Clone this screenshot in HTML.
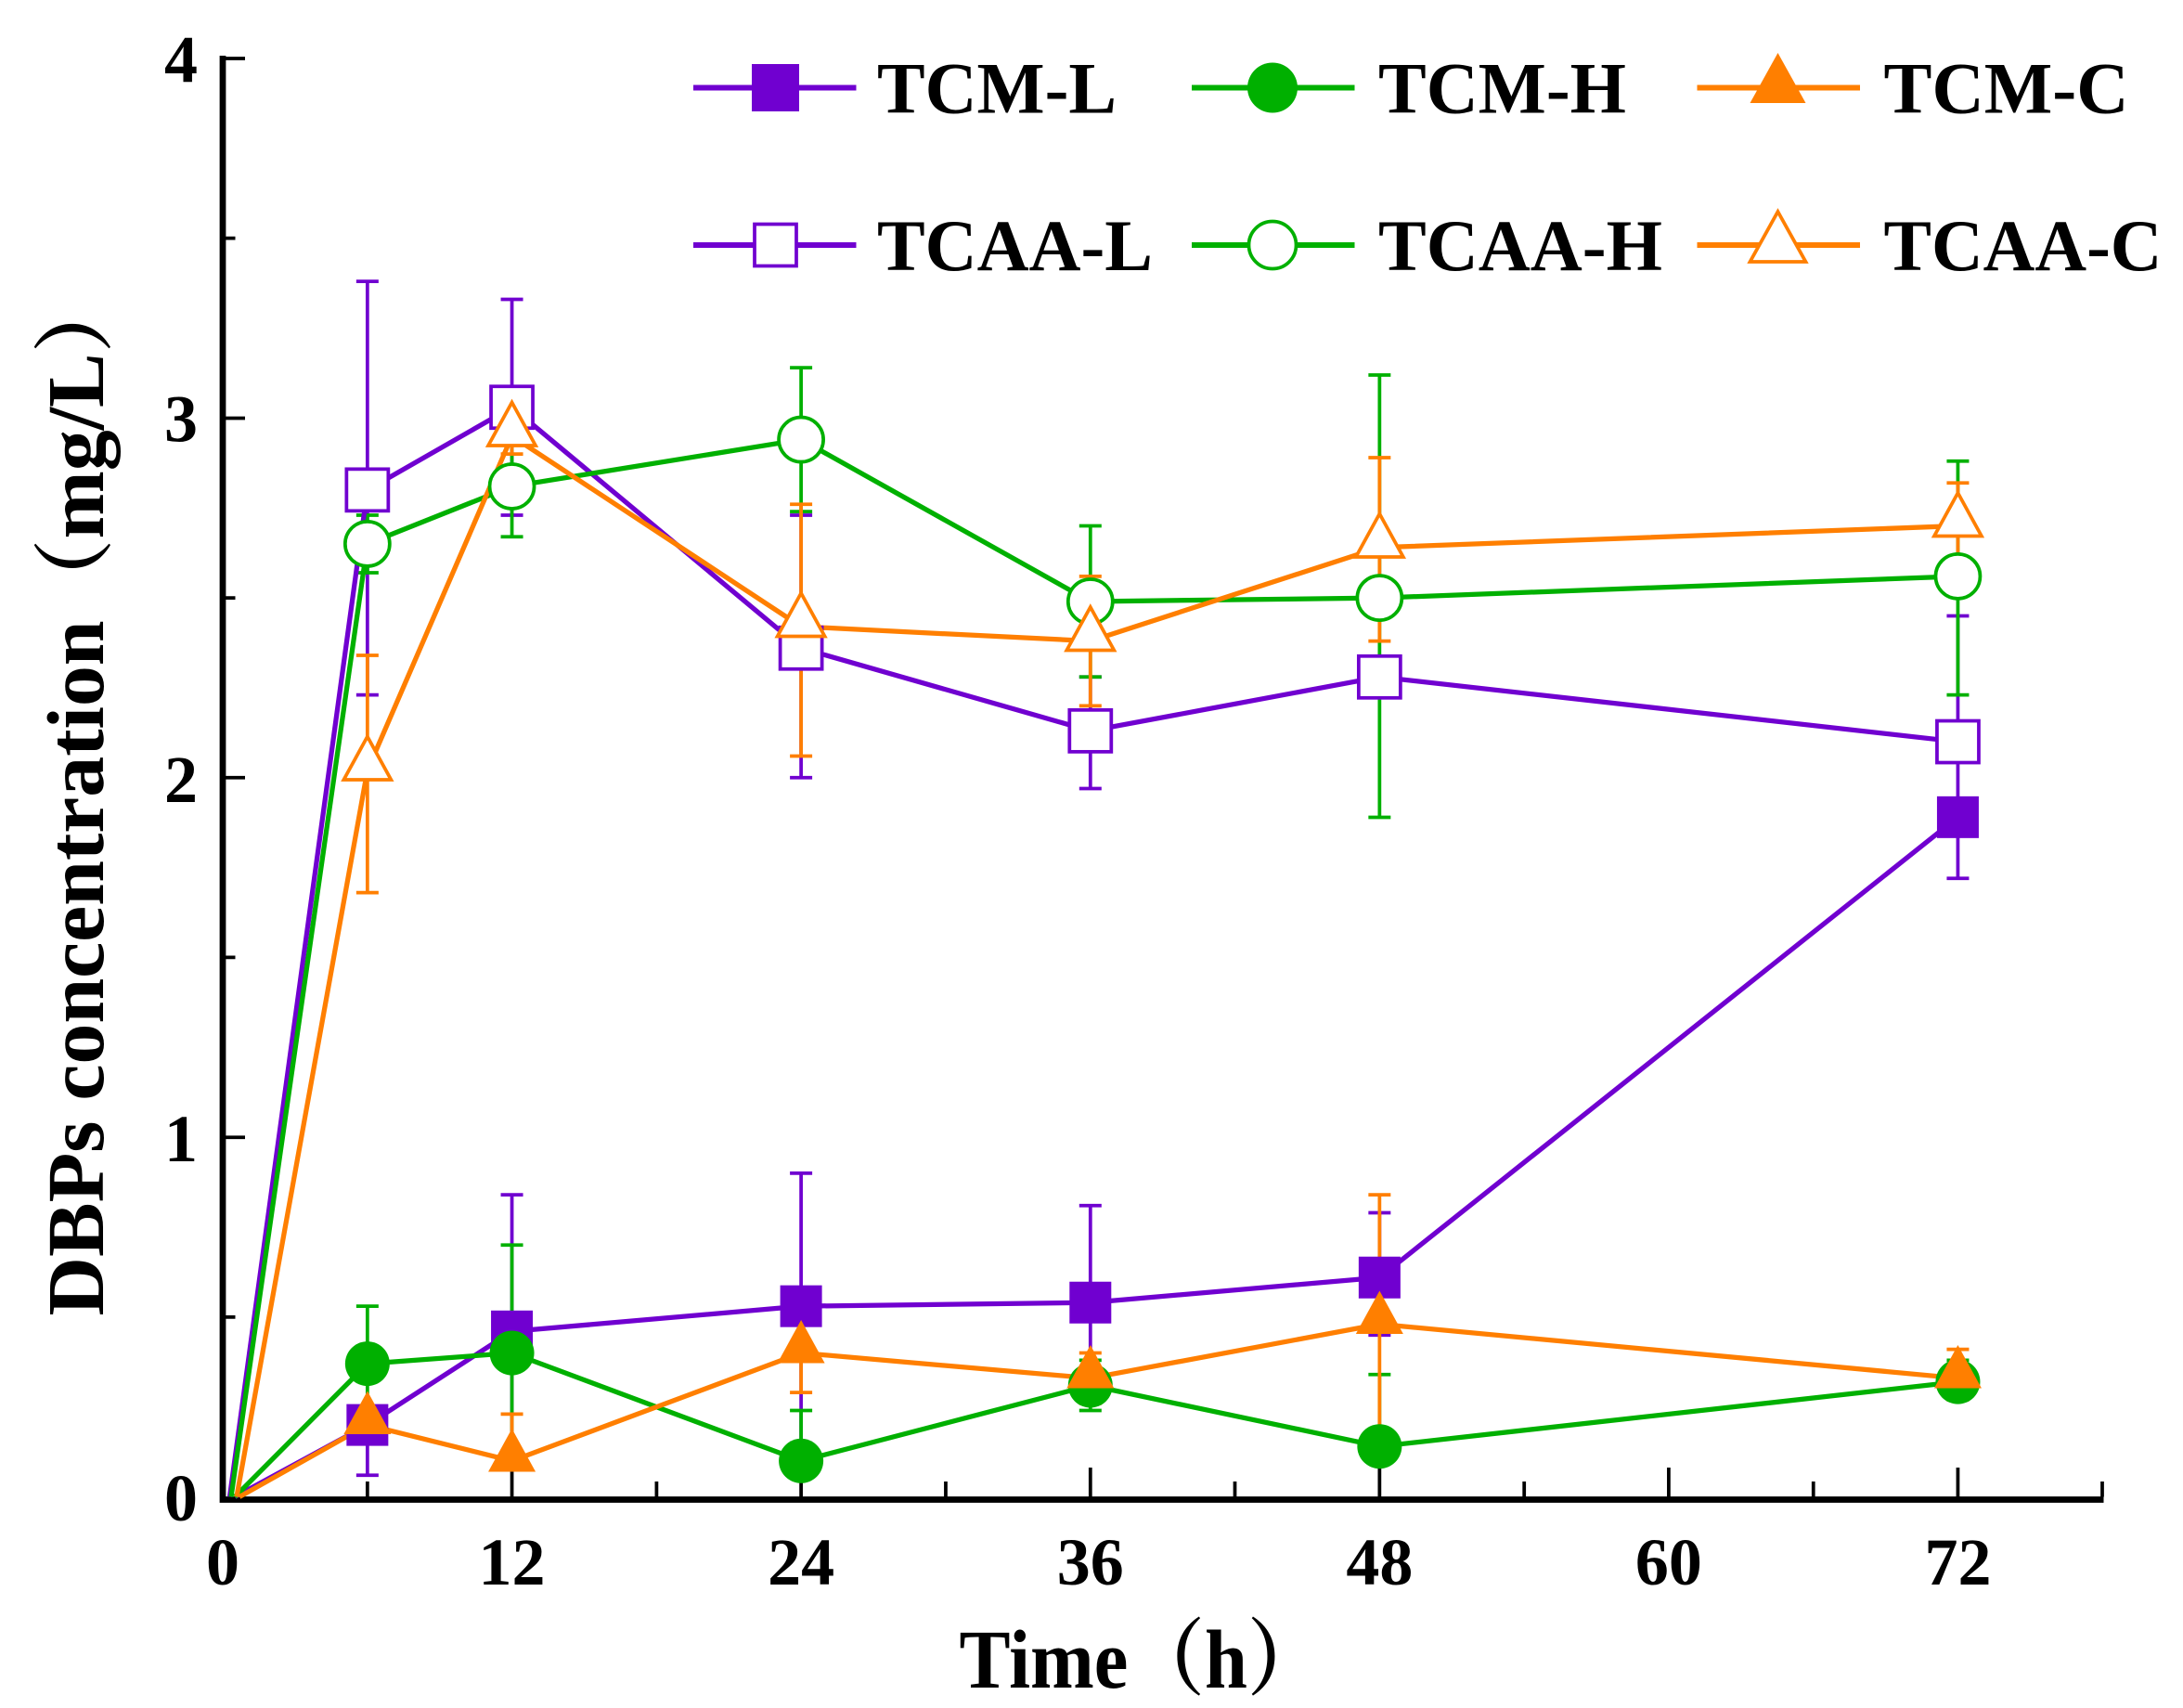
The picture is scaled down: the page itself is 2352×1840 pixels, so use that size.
<!DOCTYPE html>
<html><head><meta charset="utf-8"><style>html,body{margin:0;padding:0;background:#fff}svg{display:block}</style></head>
<body>
<svg width="2352" height="1840" viewBox="0 0 1568 1226.67" preserveAspectRatio="none" xmlns="http://www.w3.org/2000/svg" font-family="'Liberation Serif', 'Noto Serif CJK SC', serif" font-weight="bold">
<rect width="1568" height="1227" fill="#fff"/>
<g stroke="#000" stroke-width="4.5" fill="none">
<path d="M160 40 V1077 H1511"/>
</g>
<g stroke="#000" stroke-width="2.5" fill="none">
<path d="M160 42 h16 M160 300.3 h16 M160 558.5 h16 M160 816.8 h16"/>
<path d="M160 171.1 h9 M160 429.4 h9 M160 687.6 h9 M160 945.9 h9"/>
<path d="M367.7 1075 v-21 M575.4 1075 v-21 M783.2 1075 v-21 M990.9 1075 v-21 M1198.6 1075 v-21 M1406.3 1075 v-21"/>
<path d="M263.9 1075 v-11 M471.6 1075 v-11 M679.3 1075 v-11 M887 1075 v-11 M1094.8 1075 v-11 M1302.5 1075 v-11 M1510 1075 v-11"/>
</g>
<g font-size="48" text-anchor="end">
<text x="142" y="1092">0</text><text x="142" y="834">1</text><text x="142" y="576">2</text><text x="142" y="317">3</text><text x="142" y="59">4</text>
</g>
<g font-size="48" text-anchor="middle">
<text x="160" y="1138">0</text><text x="367.7" y="1138">12</text><text x="575.4" y="1138">24</text><text x="783.2" y="1138">36</text><text x="990.9" y="1138">48</text><text x="1198.6" y="1138">60</text><text x="1406.3" y="1138">72</text>
</g>
<text x="820" y="1212" font-size="60" text-anchor="middle" textLength="262" lengthAdjust="spacingAndGlyphs">Time（h）</text>
<text transform="translate(74 570) rotate(-90)" font-size="58" text-anchor="middle" textLength="750" lengthAdjust="spacingAndGlyphs">DBPs concentration（mg/L）</text>

<g stroke-width="2.5" fill="none">
<path stroke="#7000d0" d="M263.9 1059.5V1023.4M255.9 1059.5h16 M367.7 858.1V1049.2M359.7 858.1h16M359.7 1049.2h16 M575.4 842.6V1036.3M567.4 842.6h16M567.4 1036.3h16 M783.2 865.8V1005.3M775.2 865.8h16M775.2 1005.3h16 M990.9 871V958.8M982.9 871h16M982.9 958.8h16 M1406.3 540.4V630.8M1398.3 540.4h16M1398.3 630.8h16"/>
<path stroke="#7000d0" d="M263.9 202.1V499.1M255.9 202.1h16M255.9 499.1h16 M367.7 215V370M359.7 215h16M359.7 370h16 M575.4 370V558.5M567.4 370h16M567.4 558.5h16 M783.2 486.2V566.3M775.2 486.2h16M775.2 566.3h16 M990.9 478.4V496.5M982.9 478.4h16M982.9 496.5h16 M1406.3 442.3V532.7M1398.3 442.3h16"/>
<path stroke="#00b000" d="M263.9 938.1V1013M255.9 938.1h16M255.9 1013h16 M367.7 894.2V1049.2M359.7 894.2h16M359.7 1049.2h16 M575.4 1013V1049M567.4 1013h16 M783.2 976.9V1013M775.2 976.9h16M775.2 1013h16 M990.9 987.2V1038.8M982.9 987.2h16 M1406.3 976.9V1002.7M1398.3 976.9h16M1398.3 1002.7h16"/>
<path stroke="#00b000" d="M263.9 370V411.3M255.9 370h16M255.9 411.3h16 M367.7 310.6V385.5M359.7 310.6h16M359.7 385.5h16 M575.4 264.1V367.4M567.4 264.1h16M567.4 367.4h16 M783.2 377.7V486.2M775.2 377.7h16M775.2 486.2h16 M990.9 269.3V587M982.9 269.3h16M982.9 587h16 M1406.3 331.2V499.1M1398.3 331.2h16M1398.3 499.1h16"/>
<path stroke="#ff7f00" d="M367.7 1015.6V1049.2M359.7 1015.6h16 M575.4 943.3V1000.1M567.4 943.3h16M567.4 1000.1h16 M783.2 971.7V1007.9M775.2 971.7h16M775.2 1007.9h16 M990.9 858.1V1044M982.9 858.1h16M982.9 1044h16 M1406.3 969.1V1005.3M1398.3 969.1h16M1398.3 1005.3h16"/>
<path stroke="#ff7f00" d="M263.9 470.7V641.1M255.9 470.7h16M255.9 641.1h16 M367.7 300.3V326.1M359.7 300.3h16M359.7 326.1h16 M575.4 362.2V543M567.4 362.2h16M567.4 543h16 M783.2 413.9V506.9M775.2 413.9h16M775.2 506.9h16 M990.9 328.7V460.4M982.9 328.7h16M982.9 460.4h16 M1406.3 346.8V408.7M1398.3 346.8h16M1398.3 408.7h16"/>
</g>

<g fill="none" stroke-width="3.5" stroke-linejoin="round">
<polyline stroke="#7000d0" points="168.7,1075 263.9,1023.4 367.7,956.2 575.4,938.1 783.2,935.5 990.9,917.5 1406.3,586.9"/>
<polyline stroke="#00b000" points="168.7,1075 263.9,979.4 367.7,971.7 575.4,1049.2 783.2,995 990.9,1038.8 1406.3,992.4"/>
<polyline stroke="#ff7f00" points="172,1075 263.9,1023.4 367.7,1049.2 575.4,971.7 783.2,989.8 990.9,951 1406.3,989.8"/>
<polyline stroke="#7000d0" points="165,1075 263.9,351.9 367.7,292.5 575.4,465.5 783.2,524.9 990.9,486.2 1406.3,532.7"/>
<polyline stroke="#00b000" points="166,1075 263.9,390.6 367.7,349.3 575.4,315.7 783.2,432 990.9,429.4 1406.3,413.9"/>
<polyline stroke="#ff7f00" points="170,1075 263.9,553.3 367.7,313.2 575.4,450 783.2,460.4 990.9,393.2 1406.3,377.7"/>
</g>

<defs>
<rect id="sq" x="-15" y="-15" width="30" height="30"/>
<circle id="ci" r="16"/>
<polygon id="tr" points="0,-19 17,12 -17,12"/>
</defs>
<g fill="#7000d0">
<use href="#sq" x="263.9" y="1023.4"/><use href="#sq" x="367.7" y="956.2"/><use href="#sq" x="575.4" y="938.1"/><use href="#sq" x="783.2" y="935.5"/><use href="#sq" x="990.9" y="917.5"/><use href="#sq" x="1406.3" y="586.9"/>
</g>
<g fill="#00b000">
<use href="#ci" x="263.9" y="979.4"/><use href="#ci" x="367.7" y="971.7"/><use href="#ci" x="575.4" y="1049.2"/><use href="#ci" x="783.2" y="995"/><use href="#ci" x="990.9" y="1038.8"/><use href="#ci" x="1406.3" y="992.4"/>
</g>
<g fill="#ff7f00">
<use href="#tr" x="263.9" y="1018"/><use href="#tr" x="367.7" y="1045"/><use href="#tr" x="575.4" y="967"/><use href="#tr" x="783.2" y="985"/><use href="#tr" x="990.9" y="946"/><use href="#tr" x="1406.3" y="985"/>
</g>
<g fill="#fff" stroke="#7000d0" stroke-width="2.5">
<use href="#sq" x="263.9" y="351.9"/><use href="#sq" x="367.7" y="292.5"/><use href="#sq" x="575.4" y="465.5"/><use href="#sq" x="783.2" y="524.9"/><use href="#sq" x="990.9" y="486.2"/><use href="#sq" x="1406.3" y="532.7"/>
</g>
<g fill="#fff" stroke="#00b000" stroke-width="2.5">
<use href="#ci" x="263.9" y="390.6"/><use href="#ci" x="367.7" y="349.3"/><use href="#ci" x="575.4" y="315.7"/><use href="#ci" x="783.2" y="432"/><use href="#ci" x="990.9" y="429.4"/><use href="#ci" x="1406.3" y="413.9"/>
</g>
<g fill="#fff" stroke="#ff7f00" stroke-width="2.5">
<use href="#tr" x="263.9" y="548"/><use href="#tr" x="367.7" y="308"/><use href="#tr" x="575.4" y="445"/><use href="#tr" x="783.2" y="455"/><use href="#tr" x="990.9" y="388"/><use href="#tr" x="1406.3" y="373"/>
</g>

<g stroke-width="4">
<path stroke="#7000d0" d="M498 63H615 M498 176H615"/>
<path stroke="#00b000" d="M856 63H973 M856 176H973"/>
<path stroke="#ff7f00" d="M1219 63H1336 M1219 176H1336"/>
</g>
<rect x="540" y="46" width="34" height="34" fill="#7000d0"/>
<circle cx="914" cy="63" r="18" fill="#00b000"/>
<polygon points="1277,38 1297,74 1257,74" fill="#ff7f00"/>
<rect x="542" y="161" width="30" height="30" fill="#fff" stroke="#7000d0" stroke-width="2.5"/>
<circle cx="914" cy="176" r="17" fill="#fff" stroke="#00b000" stroke-width="2.5"/>
<polygon points="1277,152 1297,188 1257,188" fill="#fff" stroke="#ff7f00" stroke-width="2.5"/>
<g font-size="52">
<text x="630" y="81" textLength="172" lengthAdjust="spacingAndGlyphs">TCM-L</text><text x="990" y="81" textLength="178" lengthAdjust="spacingAndGlyphs">TCM-H</text><text x="1353" y="81" textLength="176" lengthAdjust="spacingAndGlyphs">TCM-C</text>
<text x="630" y="194" textLength="198" lengthAdjust="spacingAndGlyphs">TCAA-L</text><text x="990" y="194" textLength="204" lengthAdjust="spacingAndGlyphs">TCAA-H</text><text x="1353" y="194" textLength="200" lengthAdjust="spacingAndGlyphs">TCAA-C</text>
</g>
</svg>
</body></html>
